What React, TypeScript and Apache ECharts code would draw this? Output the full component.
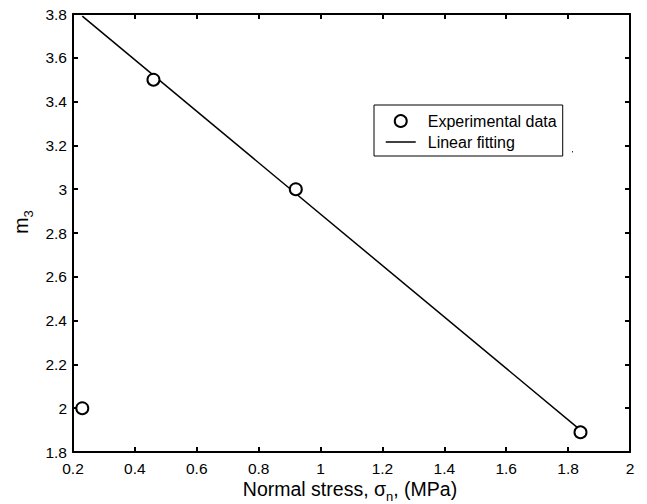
import React, { useEffect, useRef } from "react";
import * as echarts from "echarts";

const expX = [0.23, 0.46, 0.92, 1.84];
const expY = [2.0, 3.5, 3.0, 1.89];
const fitX = [0.23, 1.84];
const fitY = [3.79, 1.9];
const xRange = [0.2, 2.0];
const yRange = [1.8, 3.8];
const tickStep = 0.2;
const seriesNames = ["Experimental data", "Linear fitting"];

const FONT = "'Liberation Sans', Arial, sans-serif";

export default function App() {
  const ref = useRef<HTMLDivElement>(null);
  useEffect(() => {
    if (!ref.current) return;
    const chart = echarts.init(ref.current, undefined, { renderer: "svg" });
    const axisCommon = {
      interval: tickStep,
      axisLine: { show: true, onZero: false, lineStyle: { color: "#000", width: 2 } },
      axisTick: { show: true, inside: true, length: 5, lineStyle: { color: "#000", width: 2 } },
      splitLine: { show: false },
    };
    const sub = { fontSize: 13, fontFamily: FONT, fill: "#000", color: "#000", lineHeight: 27, verticalAlign: "bottom" };
    const main = { fontSize: 19.5, fontFamily: FONT, fill: "#000", color: "#000", lineHeight: 27, verticalAlign: "middle" };
    const option: any = {
      animation: false,
      backgroundColor: "#fff",
      textStyle: { fontFamily: FONT },
      grid: { left: 73, right: 17, top: 14, bottom: 52, containLabel: false },
      xAxis: [
        {
          ...axisCommon,
          type: "value",
          position: "bottom",
          min: xRange[0],
          max: xRange[1],
          axisLabel: { show: true, color: "#000", fontSize: 15.5, fontFamily: FONT, margin: 8 },
        },
        {
          ...axisCommon,
          type: "value",
          position: "top",
          min: xRange[0],
          max: xRange[1],
          axisLabel: { show: false },
        },
      ],
      yAxis: [
        {
          ...axisCommon,
          type: "value",
          position: "left",
          min: yRange[0],
          max: yRange[1],
          axisLabel: { show: true, color: "#000", fontSize: 15.5, fontFamily: FONT, margin: 6 },
        },
        {
          ...axisCommon,
          type: "value",
          position: "right",
          min: yRange[0],
          max: yRange[1],
          axisLabel: { show: false },
        },
      ],
      legend: {
        orient: "vertical",
        left: 374,
        top: 105,
        padding: [8, 6, 6, 11],
        itemGap: 5,
        itemWidth: 30,
        itemHeight: 12,
        borderColor: "#000",
        borderWidth: 1,
        backgroundColor: "#fff",
        textStyle: { color: "#000", fontSize: 16, fontFamily: FONT, padding: [0, 0, 0, 7] },
        data: [
          { name: seriesNames[0], icon: "circle", itemStyle: { color: "#fff", borderColor: "#000", borderWidth: 2 } },
          { name: seriesNames[1], itemStyle: { opacity: 0 }, lineStyle: { color: "#000", width: 1.5 } },
        ],
      },
      series: [
        {
          name: seriesNames[1],
          type: "line",
          data: fitX.map((x, i) => [x, fitY[i]]),
          symbol: "none",
          lineStyle: { color: "#000", width: 1.5 },
          itemStyle: { color: "#000" },
          z: 2,
        },
        {
          name: seriesNames[0],
          type: "scatter",
          data: expX.map((x, i) => [x, expY[i]]),
          symbol: "circle",
          symbolSize: 12,
          itemStyle: { color: "#fff", borderColor: "#000", borderWidth: 2, opacity: 1 },
          z: 3,
        },
      ],
      graphic: [
        {
          type: "text",
          x: 350,
          y: 489,
          style: {
            text: "{a|Normal stress, σ}{b|n}{a|, (MPa)}",
            align: "center",
            verticalAlign: "middle",
            rich: { a: main, b: sub },
          },
        },
        {
          type: "text",
          x: 21,
          y: 222,
          rotation: Math.PI / 2,
          style: {
            text: "{a|m}{b|3}",
            align: "center",
            verticalAlign: "middle",
            rich: { a: main, b: sub },
          },
        },
        {
          type: "rect",
          shape: { x: 572, y: 151, width: 1, height: 1.5 },
          style: { fill: "#333" },
        },
      ],
    };
    chart.setOption(option);
    return () => chart.dispose();
  }, []);
  return (
    <div
      ref={ref}
      style={{ position: "absolute", left: 0, top: 0, width: 647, height: 504, background: "#fff" }}
    />
  );
}
